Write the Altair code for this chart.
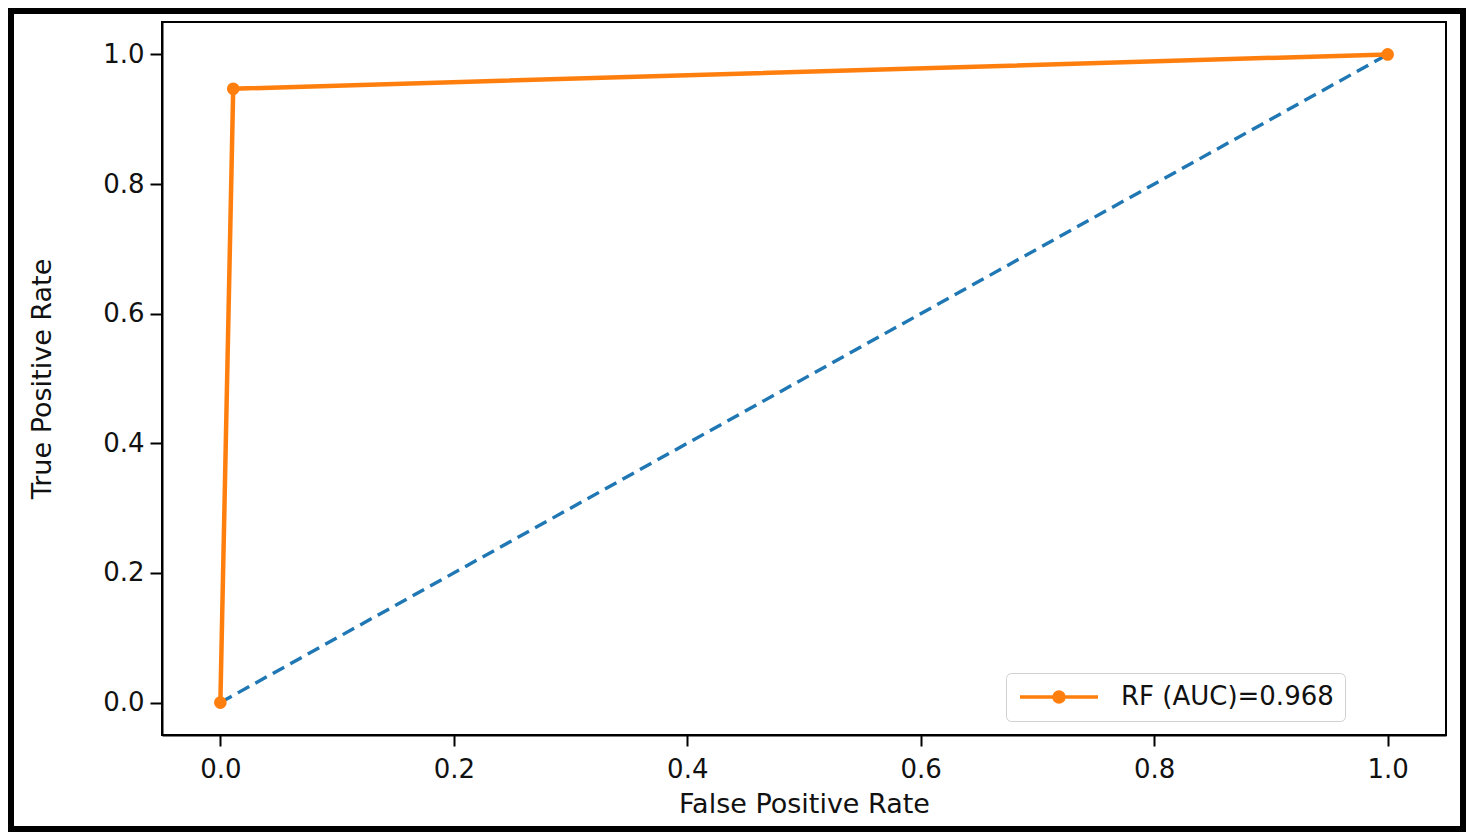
import altair as alt
import pandas as pd

# ROC data
fpr = [0.0, 0.011, 1.0]
tpr = [0.0, 0.947, 1.0]
series_name = "RF (AUC)=0.968"

diag_x = [0.0, 1.0]
diag_y = [0.0, 1.0]

tick_values = [0.0, 0.2, 0.4, 0.6, 0.8, 1.0]

ORANGE = "#ff7f0e"
BLUE = "#1f77b4"
FONT = "DejaVu Sans"

roc_df = pd.DataFrame({"fpr": fpr, "tpr": tpr, "series": [series_name] * len(fpr)})
diag_df = pd.DataFrame({"x": diag_x, "y": diag_y})

W, H = 1284, 713
PL, PT, PR, PB = 154, 14, 20, 97

xscale = alt.Scale(domain=[-0.05, 1.05], nice=False, zero=False)
yscale = alt.Scale(domain=[-0.05, 1.05], nice=False, zero=False)

xaxis = alt.Axis(values=tick_values, format=".1f", title="False Positive Rate",
                 grid=False, tickSize=11, labelPadding=10, titlePadding=9)
yaxis = alt.Axis(values=tick_values, format=".1f", title="True Positive Rate",
                 grid=False, tickSize=12, labelPadding=6, titlePadding=46)

legend_symbol = ("M-1,0L6.8,0"
                 "M2.4,0A0.5,0.5 0 1,0 3.4,0A0.5,0.5 0 1,0 2.4,0Z")

diag = alt.Chart(diag_df).mark_line(
    color=BLUE, strokeWidth=3.4, strokeDash=[13, 7]
).encode(
    x=alt.X("x:Q", scale=xscale, axis=xaxis),
    y=alt.Y("y:Q", scale=yscale, axis=yaxis),
)

roc_line = alt.Chart(roc_df).mark_line(strokeWidth=4.5).encode(
    x=alt.X("fpr:Q", scale=xscale, axis=xaxis),
    y=alt.Y("tpr:Q", scale=yscale, axis=yaxis),
    color=alt.Color(
        "series:N",
        scale=alt.Scale(domain=[series_name], range=[ORANGE]),
        legend=alt.Legend(
            title=None, orient="none", legendX=844, legendY=651,
            symbolType=legend_symbol, symbolSize=400,
            symbolStrokeWidth=3.5, symbolFillColor=ORANGE, symbolStrokeColor=ORANGE,
            labelOffset=78, labelFontSize=26, labelFont=FONT, labelColor="#111111",
            labelLimit=0,
            padding=11, strokeColor="#d0d0d0", fillColor="#ffffff", cornerRadius=5,
        ),
    ),
)

roc_pts = alt.Chart(roc_df).mark_point(
    filled=True, size=160, color=ORANGE, opacity=1, shape="circle"
).encode(
    x=alt.X("fpr:Q", scale=xscale, axis=xaxis),
    y=alt.Y("tpr:Q", scale=yscale, axis=yaxis),
)

frame = alt.Chart(pd.DataFrame({"a": [0]})).mark_rect(
    fill=None, stroke="#000000", strokeWidth=6
).encode(
    x=alt.value(-PL + 3), x2=alt.value(W + PR - 3),
    y=alt.value(-PT + 3), y2=alt.value(H + PB - 3),
)

chart = alt.layer(diag, roc_line, roc_pts, frame).properties(
    width=W, height=H,
    autosize=alt.AutoSizeParams(type="none"),
    padding={"left": PL, "top": PT, "right": PR, "bottom": PB},
    background="#ffffff",
).configure_view(
    stroke="#000000", strokeWidth=2
).configure_axis(
    domainColor="#000000", domainWidth=2, tickColor="#000000", tickWidth=2,
    labelFont=FONT, labelFontSize=26, labelColor="#111111",
    titleFont=FONT, titleFontSize=27, titleFontWeight="normal", titleColor="#111111",
)

chart.save("out.html", embed_options={"renderer": "svg", "actions": False})
